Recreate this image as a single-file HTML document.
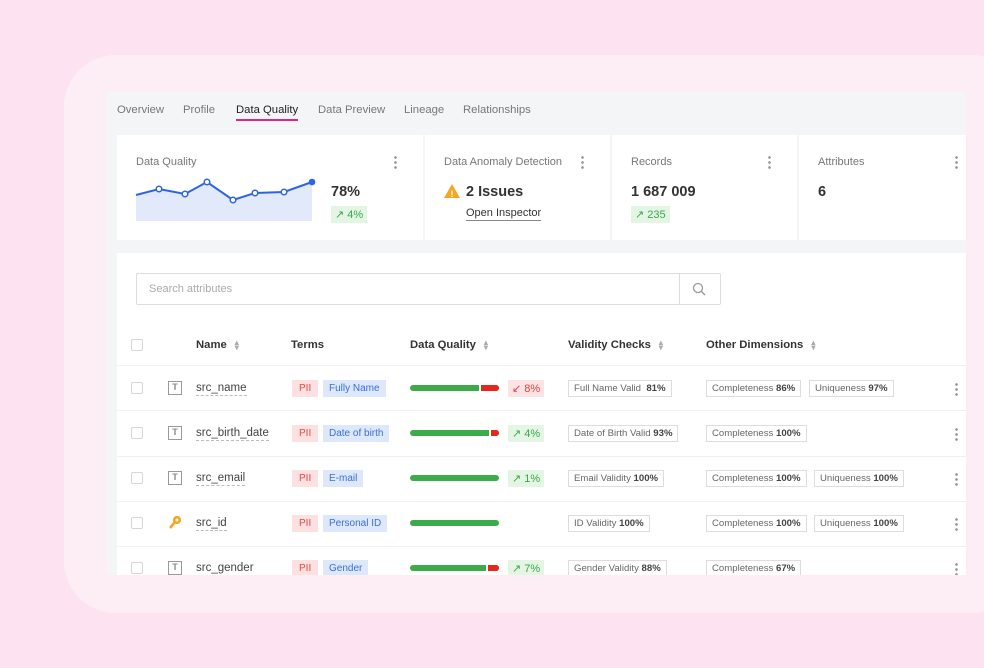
<!DOCTYPE html>
<html><head><meta charset="utf-8"><style>
*{box-sizing:border-box;margin:0;padding:0}
body{width:984px;height:668px;background:#fde3f2;font-family:"Liberation Sans",sans-serif;position:relative;overflow:hidden;color:#333}
.a{position:absolute}
.panel{left:64px;top:55px;width:960px;height:558px;background:#fdeef6;border-radius:52px}
.gray{left:106px;top:92px;width:860px;height:483px;background:#f4f5f7}
.tab{top:104px;font-size:11.3px;color:#777}
.card{background:#fff;top:135px;height:105px}
.ct{top:156px;font-size:11px;color:#777}
.dots{width:3px;height:14px;background:radial-gradient(circle,#999 1.2px,transparent 1.5px) 0 0/3px 5px repeat-y}
.big{font-size:14.5px;font-weight:bold;color:#333}
.up{background:#e3f5e3;color:#3aa64a;font-size:11px;padding:2px 4px}
.dn{background:#fde3e3;color:#e04040;font-size:11px;padding:2px 4px}
.hd{top:339px;font-size:11.3px;font-weight:bold;color:#333}
.sort{display:inline-block;margin-left:8px;color:#aaa;font-size:8px;line-height:5px;vertical-align:middle}
.line{left:117px;width:849px;height:1px;background:#eef0f2}
.cb{width:12px;height:12px;border:1px solid #d6d6d6;border-radius:2px}
.ti{width:14px;height:14px;border:1.5px solid #999;font-size:9px;color:#888;text-align:center;line-height:11px;font-weight:bold}
.nm{font-size:11.5px;color:#444;border-bottom:1px dashed #bbb;line-height:13px}
.pii{background:#fde0e0;color:#e34a4a;font-size:10px;padding:3px 7px}
.term{background:#dde8fb;color:#3a6fd8;font-size:10px;padding:3px 6px}
.bar{height:6px;border-radius:3px;background:#3cac4a;width:89px;overflow:hidden}
.bar i{float:right;height:6px;background:#e5281e;border-left:2px solid #fff}
.tag{font-size:9.6px;color:#666;border:1px solid #ddd;padding:2px 5px;background:#fff;white-space:nowrap}
.tag b{color:#444}
</style></head><body>
<div class="a panel"></div>
<div class="a gray"></div>
<div class="a tab" style="left:117px">Overview</div>
<div class="a tab" style="left:183px">Profile</div>
<div class="a tab" style="left:236px;color:#222">Data Quality</div>
<div class="a" style="left:236px;top:119px;width:62px;height:2px;background:#e0258a"></div>
<div class="a tab" style="left:318px">Data Preview</div>
<div class="a tab" style="left:404px">Lineage</div>
<div class="a tab" style="left:463px">Relationships</div>

<div class="a card" style="left:117px;width:306px"></div>
<div class="a card" style="left:425px;width:185px"></div>
<div class="a card" style="left:612px;width:185px"></div>
<div class="a card" style="left:799px;width:167px"></div>
<div class="a ct" style="left:136px">Data Quality</div>
<div class="a ct" style="left:444px">Data Anomaly Detection</div>
<div class="a ct" style="left:631px">Records</div>
<div class="a ct" style="left:818px">Attributes</div>
<div class="a dots" style="left:394px;top:155px"></div>
<div class="a dots" style="left:581px;top:155px"></div>
<div class="a dots" style="left:768px;top:155px"></div>
<div class="a dots" style="left:955px;top:155px"></div>
<svg class="a" style="left:0;top:0" width="984" height="668">
<polygon points="136,195 159,189 185,194 207,182 233,200 255,193 284,192 312,182 312,221 136,221" fill="#e1e9fa"/>
<polyline points="136,195 159,189 185,194 207,182 233,200 255,193 284,192 312,182" fill="none" stroke="#2c64e3" stroke-width="2"/>
<g fill="#fff" stroke="#2c64e3" stroke-width="1.5"><circle cx="159" cy="189" r="2.8"/><circle cx="185" cy="194" r="2.8"/><circle cx="207" cy="182" r="2.8"/><circle cx="233" cy="200" r="2.8"/><circle cx="255" cy="193" r="2.8"/><circle cx="284" cy="192" r="2.8"/></g>
<circle cx="312" cy="182" r="3.3" fill="#2c64e3"/>
<polygon points="452,184 460,198 444,198" fill="#f5a623"/>
<text x="452" y="197" font-size="9" font-weight="bold" fill="#fff" text-anchor="middle" font-family="Liberation Sans">!</text>
</svg>
<div class="a big" style="left:331px;top:184px">78%</div>
<div class="a up" style="left:331px;top:206px">↗ 4%</div>
<div class="a big" style="left:466px;top:184px">2 Issues</div>
<div class="a" style="left:466px;top:207px;font-size:11px;color:#333;border-bottom:1px solid #888;line-height:13px">Open Inspector</div>
<div class="a big" style="left:631px;top:184px">1 687 009</div>
<div class="a up" style="left:631px;top:206px">↗ 235</div>
<div class="a big" style="left:818px;top:184px">6</div>

<div class="a" style="left:117px;top:253px;width:849px;height:322px;background:#fff"></div>
<div class="a" style="left:136px;top:273px;width:585px;height:32px;border:1px solid #ddd;border-radius:2px"></div>
<div class="a" style="left:679px;top:273px;width:1px;height:32px;background:#ddd"></div>
<div class="a" style="left:149px;top:283px;font-size:11px;color:#aaa">Search attributes</div>
<svg class="a" style="left:0;top:0" width="984" height="668"><circle cx="698" cy="288" r="4.5" fill="none" stroke="#999" stroke-width="1.3"/><line x1="701" y1="291" x2="705" y2="295" stroke="#999" stroke-width="1.4"/>
<g stroke="#f5a623" stroke-width="2.6" fill="none"><circle cx="177" cy="520" r="2.8"/><line x1="175" y1="522" x2="170" y2="528"/></g></svg>

<div class="a cb" style="left:131px;top:339px"></div>
<div class="a hd" style="left:196px">Name<span class="sort">▴<br>▾</span></div>
<div class="a hd" style="left:291px">Terms</div>
<div class="a hd" style="left:410px">Data Quality<span class="sort">▴<br>▾</span></div>
<div class="a hd" style="left:568px">Validity Checks<span class="sort">▴<br>▾</span></div>
<div class="a hd" style="left:706px">Other Dimensions<span class="sort">▴<br>▾</span></div>

<div class="a line" style="top:365px"></div>
<div class="a line" style="top:410px"></div>
<div class="a line" style="top:456px"></div>
<div class="a line" style="top:501px"></div>
<div class="a line" style="top:546px"></div>

<div class="a cb" style="left:131px;top:382px"></div>
<div class="a ti" style="left:168px;top:381px">T</div>
<div class="a nm" style="left:196px;top:382px">src_name</div>
<div class="a pii" style="left:292px;top:380px">PII</div>
<div class="a term" style="left:323px;top:380px">Fully Name</div>
<div class="a bar" style="left:410px;top:385px"><i style="width:20px"></i></div>
<div class="a dn" style="left:508px;top:380px">↙ 8%</div>
<div class="a tag" style="left:568px;top:380px">Full Name Valid &nbsp;<b>81%</b></div>
<div class="a tag" style="left:706px;top:380px">Completeness <b>86%</b></div>
<div class="a tag" style="left:809px;top:380px">Uniqueness <b>97%</b></div>
<div class="a dots" style="left:955px;top:382px"></div>

<div class="a cb" style="left:131px;top:427px"></div>
<div class="a ti" style="left:168px;top:426px">T</div>
<div class="a nm" style="left:196px;top:427px">src_birth_date</div>
<div class="a pii" style="left:292px;top:425px">PII</div>
<div class="a term" style="left:323px;top:425px">Date of birth</div>
<div class="a bar" style="left:410px;top:430px"><i style="width:10px"></i></div>
<div class="a up" style="left:508px;top:425px">↗ 4%</div>
<div class="a tag" style="left:568px;top:425px">Date of Birth Valid <b>93%</b></div>
<div class="a tag" style="left:706px;top:425px">Completeness <b>100%</b></div>
<div class="a dots" style="left:955px;top:427px"></div>

<div class="a cb" style="left:131px;top:472px"></div>
<div class="a ti" style="left:168px;top:471px">T</div>
<div class="a nm" style="left:196px;top:472px">src_email</div>
<div class="a pii" style="left:292px;top:470px">PII</div>
<div class="a term" style="left:323px;top:470px">E-mail</div>
<div class="a bar" style="left:410px;top:475px"></div>
<div class="a up" style="left:508px;top:470px">↗ 1%</div>
<div class="a tag" style="left:568px;top:470px">Email Validity <b>100%</b></div>
<div class="a tag" style="left:706px;top:470px">Completeness <b>100%</b></div>
<div class="a tag" style="left:814px;top:470px">Uniqueness <b>100%</b></div>
<div class="a dots" style="left:955px;top:472px"></div>

<div class="a cb" style="left:131px;top:517px"></div>
<div class="a nm" style="left:196px;top:517px">src_id</div>
<div class="a pii" style="left:292px;top:515px">PII</div>
<div class="a term" style="left:323px;top:515px">Personal ID</div>
<div class="a bar" style="left:410px;top:520px"></div>
<div class="a tag" style="left:568px;top:515px">ID Validity <b>100%</b></div>
<div class="a tag" style="left:706px;top:515px">Completeness <b>100%</b></div>
<div class="a tag" style="left:814px;top:515px">Uniqueness <b>100%</b></div>
<div class="a dots" style="left:955px;top:517px"></div>

<div class="a" style="left:117px;top:547px;width:849px;height:28px;overflow:hidden">
<div class="a cb" style="left:14px;top:15px"></div>
<div class="a ti" style="left:51px;top:14px">T</div>
<div class="a nm" style="left:79px;top:15px">src_gender</div>
<div class="a pii" style="left:175px;top:13px">PII</div>
<div class="a term" style="left:206px;top:13px">Gender</div>
<div class="a bar" style="left:293px;top:18px"><i style="width:13px"></i></div>
<div class="a up" style="left:391px;top:13px">↗ 7%</div>
<div class="a tag" style="left:451px;top:13px">Gender Validity <b>88%</b></div>
<div class="a tag" style="left:589px;top:13px">Completeness <b>67%</b></div>
<div class="a dots" style="left:838px;top:15px"></div>
</div>
</body></html>
